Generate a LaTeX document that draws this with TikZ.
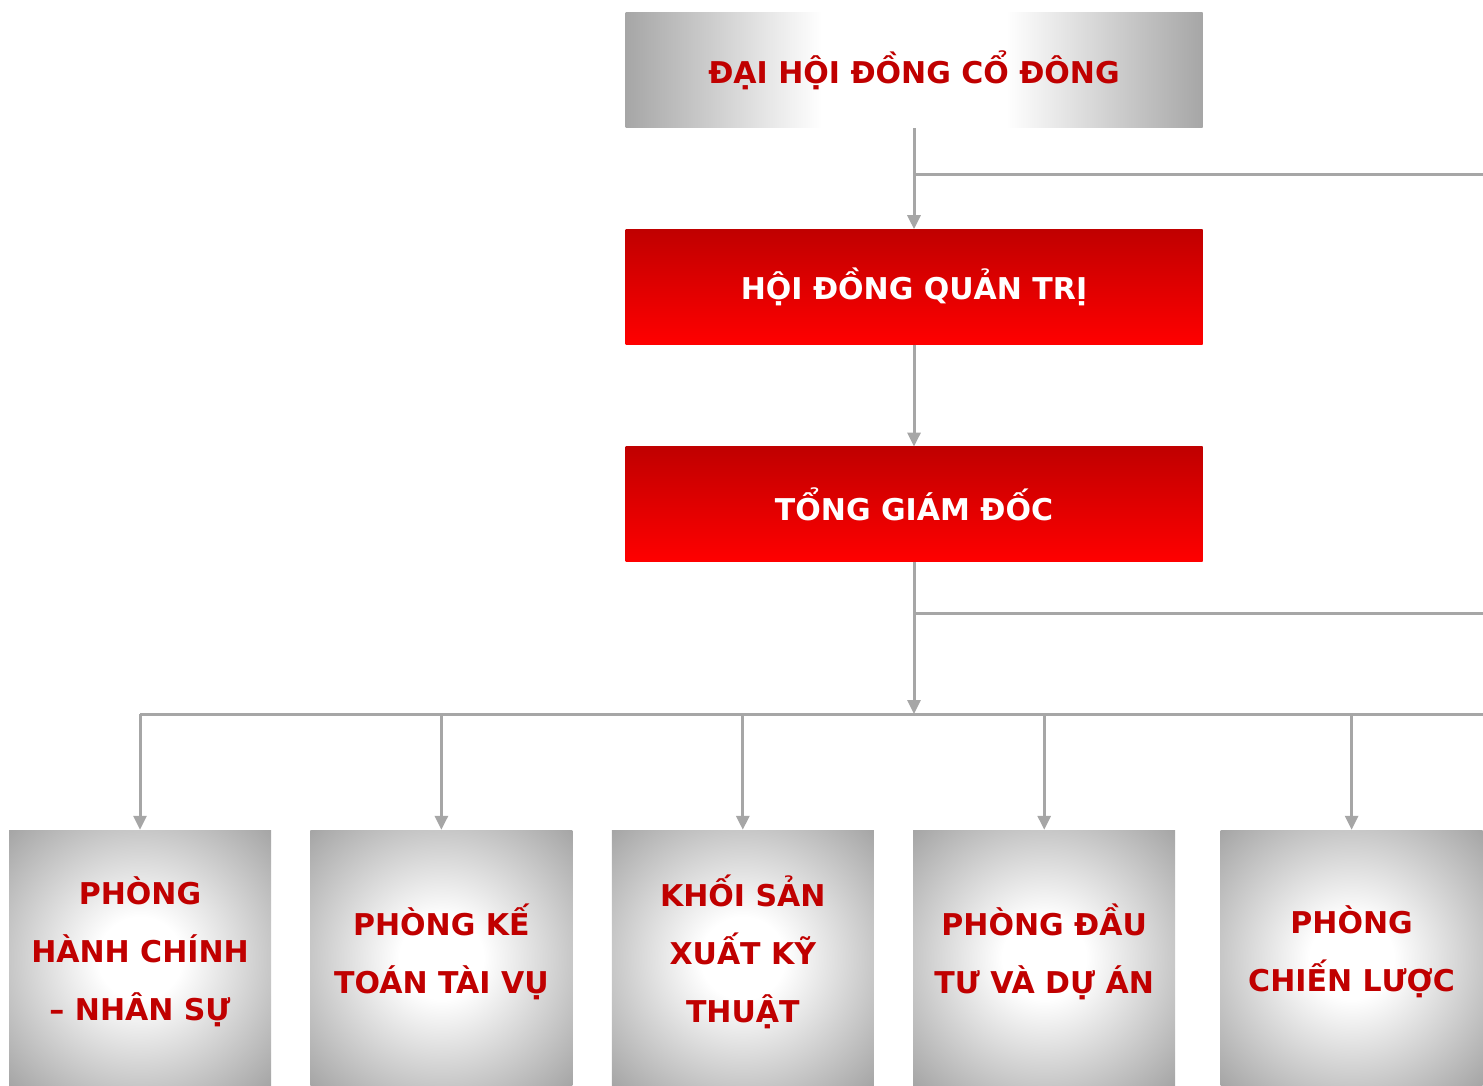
\documentclass[tikz,border=0pt]{standalone}
\usepackage{fontspec}
\setmainfont{DejaVu Sans}
\usepackage{tikz}
\usetikzlibrary{arrows.meta,positioning,calc}
\usepackage{xcolor}
\definecolor{linec}{RGB}{166,166,166}
\definecolor{shadec}{RGB}{166,166,166}
\definecolor{textc}{RGB}{192,0,0}
\definecolor{redtop}{RGB}{192,0,0}
\definecolor{redbot}{RGB}{255,0,0}
\pgfdeclarehorizontalshading{greyband}{100bp}{color(0bp)=(shadec); color(25bp)=(shadec);
  color(42bp)=(white); color(58bp)=(white); color(75bp)=(shadec); color(100bp)=(shadec)}
\pgfdeclareradialshading{greyglow}{\pgfpoint{0bp}{0bp}}{color(0bp)=(white); color(8bp)=(white);
  color(35bp)=(shadec); color(50bp)=(shadec)}
\tikzset{
  head/.style  = {minimum width=577pt, minimum height=115pt, inner sep=0pt,
                  font=\fontsize{30}{34}\selectfont\bfseries},
  meet/.style  = {head, shade, shading=greyband, text=textc},
  board/.style = {head, top color=redtop, bottom color=redbot, text=white},
  dept/.style  = {minimum width=262pt, minimum height=256pt, inner sep=0pt, align=center,
                  shade, shading=greyglow, text=textc, text depth=19pt,
                  font=\fontsize{30}{58}\selectfont\bfseries},
  link/.style  = {linec, line width=3pt},
  feed/.style  = {link, -{Triangle[length=14pt,width=13pt]}},
}
\begin{document}
\begin{tikzpicture}[x=1pt,y=-1pt]
\useasboundingbox (0,0) rectangle (1483,1086);
\clip (0,0) rectangle (1483,1086);

% ---- top of the chart ----
\node[meet] (agm) at (914,70.5) {ĐẠI HỘI ĐỒNG CỔ ĐÔNG};
\node[board, below=101pt of agm] (hdqt) {HỘI ĐỒNG QUẢN TRỊ};
\node[board, below=102pt of hdqt] (ceo) {TỔNG GIÁM ĐỐC};

% ---- departments ----
\node[dept] (dept1) at (140,958) {PHÒNG\\HÀNH CHÍNH\\– NHÂN SỰ};
\node[dept, right=39pt of dept1] (dept2) {PHÒNG KẾ\\TOÁN TÀI VỤ};
\node[dept, right=39pt of dept2] (dept3) {KHỐI SẢN\\XUẤT KỸ\\THUẬT};
\node[dept, right=39pt of dept3] (dept4) {PHÒNG ĐẦU\\TƯ VÀ DỰ ÁN};
\node[dept, right=45pt of dept4] (dept5) {PHÒNG\\CHIẾN LƯỢC};

% ---- connectors ----
\coordinate (tapA) at (1483,175);
\coordinate (tapB) at (1483,613);
\coordinate (bus) at (914,714);
\coordinate (busend) at (1483,714);
\draw[feed] (agm) -- (hdqt);
\draw[link] (tapA -| agm.south) -- (tapA);
\draw[feed] (hdqt) -- (ceo);
\draw[link] (tapB -| ceo.south) -- (tapB);
\draw[feed] (ceo) -- (bus);
\draw[link] (dept1.north |- bus) -- (busend);
\foreach \d in {dept1,dept2,dept3,dept4,dept5}
  \draw[feed] (\d.north |- bus) -- (\d.north);

\end{tikzpicture}
\end{document}
